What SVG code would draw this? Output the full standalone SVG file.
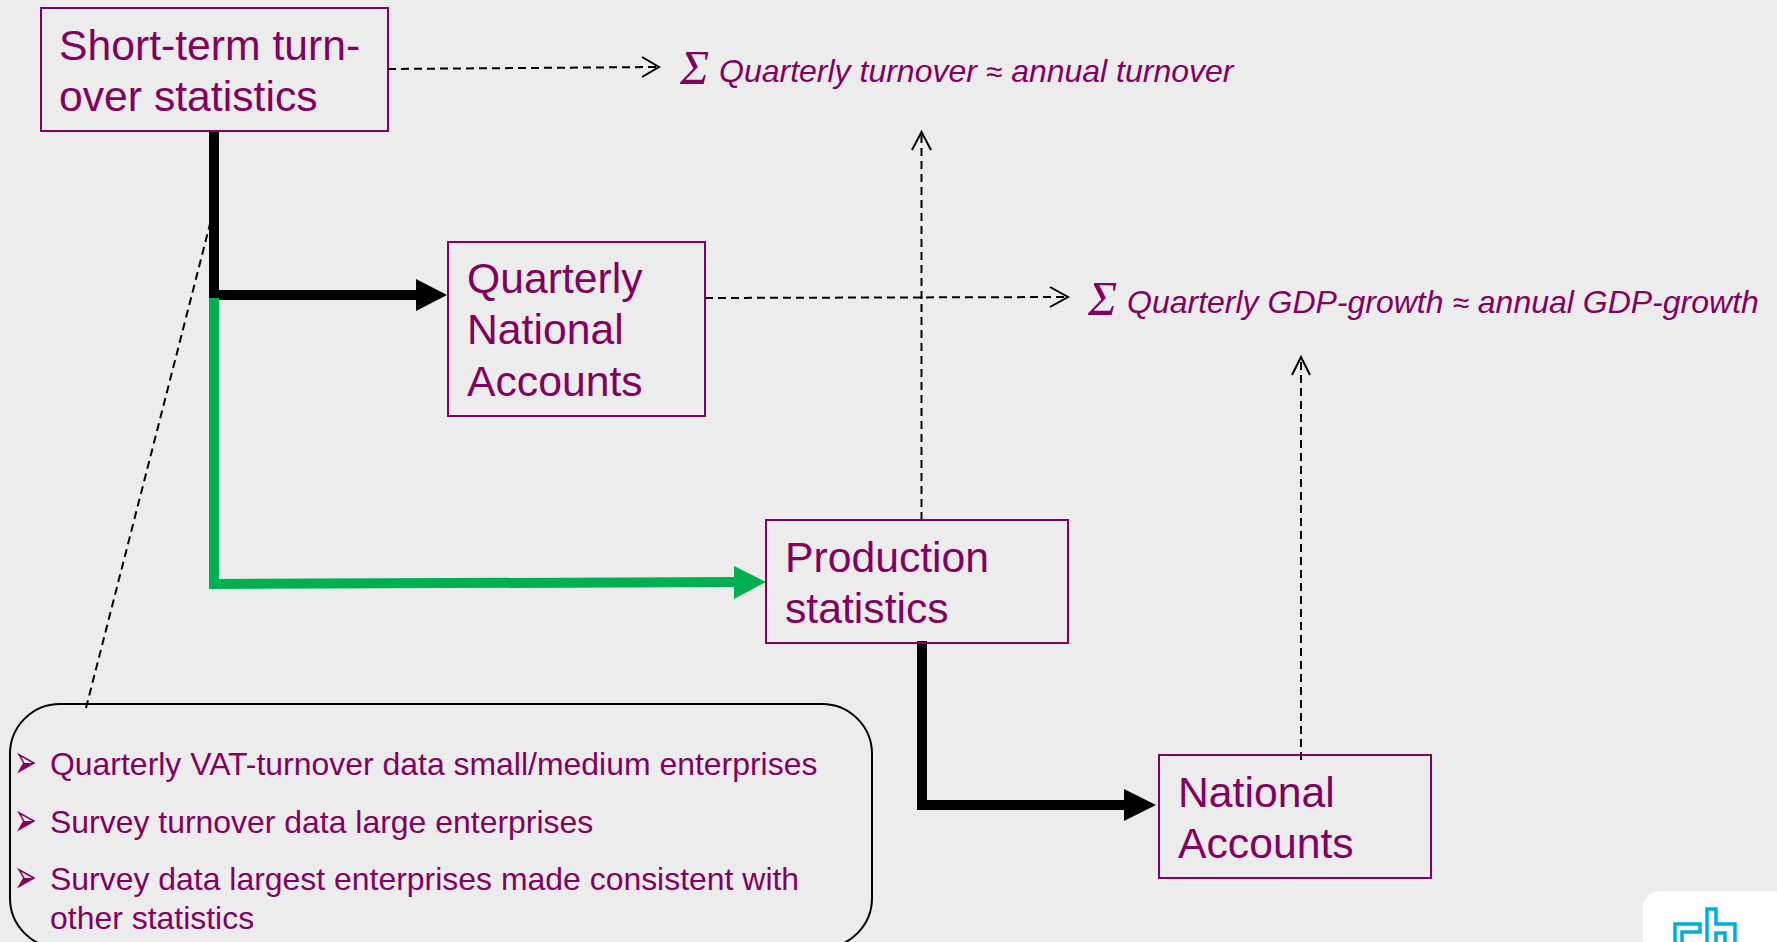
<svg xmlns="http://www.w3.org/2000/svg" width="1777" height="942" viewBox="0 0 1777 942">
<style>
text{font-family:"Liberation Sans",Arial,sans-serif;fill:#84005f}
.box{fill:none;stroke:#84005f;stroke-width:2}
.t{font-size:42.700px}
.b{font-size:31.950px}
.i{font-size:32px;font-style:italic}
.s{font-family:"Liberation Serif","Times New Roman",serif;font-size:49px;font-style:italic}
.a{font-size:30px;font-style:italic}
.m{font-family:"DejaVu Sans",sans-serif;font-size:34px}
.d{fill:none;stroke:#000;stroke-width:2;stroke-dasharray:8 5}
.o{fill:none;stroke:#000;stroke-width:2}
.k{fill:none;stroke:#000;stroke-width:10}
.logo{fill:none;stroke:#00aedb;stroke-width:3.500}
</style>
<rect width="1777" height="942" fill="#ececec"/>
<g id="logo">
<rect x="1643" y="891" width="160" height="90" rx="17" fill="#fff"/>
<path class="logo" d="M1675 942V924H1700V932H1682V942"/>
<path class="logo" d="M1707 942V909H1716V924H1735V942M1716 942V933H1725V942"/>
</g>
<g id="connectors">
<path class="k" d="M214 131V295H420"/><path d="M416 279L447 295L416 311Z"/>
<path fill="none" stroke="#00b050" stroke-width="10" d="M214 298V584L738 582"/><path fill="#00b050" d="M734 566L766 582L734 599Z"/>
<path class="k" d="M922 641V805H1128"/><path d="M1124 789L1156 805L1124 821Z"/>
<path class="d" d="M388 69L658 67"/><path class="o" d="M642 57L659 67L642 77"/>
<path class="d" d="M705 298L1067 297"/><path class="o" d="M1050 287L1068 297L1050 307"/>
<path class="d" d="M921.500 520V134"/><path class="o" d="M912 150L921.500 132L931 150"/>
<path class="d" d="M1301 760V359"/><path class="o" d="M1292 375L1301 357L1310 375"/>
<path class="d" d="M86 708L211 220"/>
</g>
<g id="short-term"><rect class="box" x="41" y="8" width="347" height="123"/><text class="t" x="59" y="60">Short-term turn-</text><text class="t" x="59" y="111">over statistics</text></g>
<g id="qna"><rect class="box" x="448" y="242" width="257" height="174"/><text class="t" x="467" y="293">Quarterly</text><text class="t" x="467" y="344">National</text><text class="t" x="467" y="396">Accounts</text></g>
<g id="production"><rect class="box" x="766" y="520" width="302" height="123"/><text class="t" x="785" y="572">Production</text><text class="t" x="785" y="623">statistics</text></g>
<g id="national"><rect class="box" x="1159" y="755" width="272" height="123"/><text class="t" x="1178" y="807">National</text><text class="t" x="1178" y="858">Accounts</text></g>
<g id="label-turnover"><text class="s" x="680" y="84">Σ</text><text class="i" x="719" y="82">Quarterly turnover <tspan class="a">≈</tspan> annual turnover</text></g>
<g id="label-gdp"><text class="s" x="1088" y="315">Σ</text><text class="i" x="1127" y="313">Quarterly GDP-growth <tspan class="a">≈</tspan> annual GDP-growth</text></g>
<g id="sources">
<rect x="10" y="704" width="862" height="244" rx="50" fill="none" stroke="#000" stroke-width="2"/>
<text class="m" transform="translate(14 778) scale(.8 1.4)">➢</text><text class="b" x="50" y="775">Quarterly VAT-turnover data small/medium enterprises</text>
<text class="m" transform="translate(14 836) scale(.8 1.4)">➢</text><text class="b" x="50" y="833">Survey turnover data large enterprises</text>
<text class="m" transform="translate(14 893) scale(.8 1.4)">➢</text><text class="b" x="50" y="890">Survey data largest enterprises made consistent with</text>
<text class="b" x="50" y="929">other statistics</text>
</g>
</svg>
